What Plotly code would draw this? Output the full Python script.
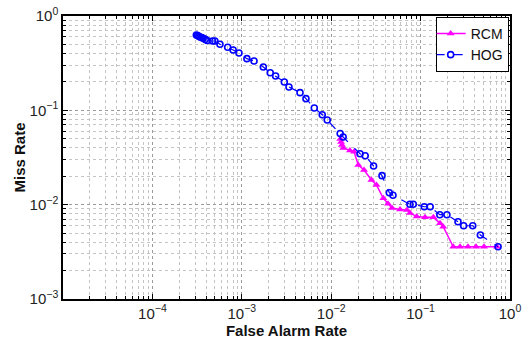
import plotly.graph_objects as go

hog_far = [3.1e-4, 3.2e-4, 3.3e-4, 3.4e-4, 3.55e-4, 3.7e-4, 3.9e-4, 4.1e-4, 4.7e-4, 5.0e-4,
           5.7e-4, 6.95e-4, 8.0e-4, 9.3e-4, 1.14e-3, 1.37e-3, 1.74e-3, 2.08e-3, 2.39e-3, 2.99e-3,
           3.37e-3, 4.48e-3, 5.22e-3, 6.47e-3, 7.94e-3, 9.03e-3, 1.26e-2, 1.36e-2, 2.1e-2, 2.4e-2,
           2.98e-2, 3.7e-2, 4.47e-2, 4.91e-2, 7.6e-2, 8.28e-2, 0.11, 0.128, 0.164, 0.197,
           0.262, 0.303, 0.383, 0.466, 0.735]
hog_miss = [0.63, 0.62, 0.61, 0.60, 0.59, 0.58, 0.565, 0.55, 0.543, 0.543,
            0.501, 0.466, 0.436, 0.405, 0.353, 0.333, 0.288, 0.25, 0.231, 0.2,
            0.177, 0.154, 0.133, 0.106, 0.0899, 0.0789, 0.0568, 0.0521, 0.0347, 0.033,
            0.0257, 0.0203, 0.0134, 0.0126, 0.0101, 0.0101, 0.0095, 0.0095, 0.00783, 0.00783,
            0.00659, 0.00598, 0.00598, 0.00477, 0.00358]

rcm_far = [0.01265, 0.01289, 0.0132, 0.01365, 0.0162, 0.0180, 0.0201, 0.0233, 0.0282, 0.0321,
           0.0383, 0.0432, 0.0479, 0.0589, 0.0705, 0.0761, 0.0904, 0.112, 0.139, 0.165,
           0.179, 0.232, 0.276, 0.339, 0.417, 0.512, 0.716]
rcm_miss = [0.0497, 0.0461, 0.0429, 0.0399, 0.0375, 0.0364, 0.0263, 0.0233, 0.0183, 0.0162,
            0.0117, 0.0102, 0.00922, 0.00889, 0.00878, 0.00816, 0.00748, 0.00734, 0.00734, 0.00634,
            0.00583, 0.00358, 0.00358, 0.00358, 0.00358, 0.00358, 0.00358]

x_tickvals = [1e-4, 1e-3, 1e-2, 1e-1, 1]
x_ticktext = ["10<sup>−4</sup>", "10<sup>−3</sup>", "10<sup>−2</sup>", "10<sup>−1</sup>", "10<sup>0</sup>"]
y_tickvals = [1e-3, 1e-2, 1e-1, 1]
y_ticktext = ["10<sup>−3</sup>", "10<sup>−2</sup>", "10<sup>−1</sup>", "10<sup>0</sup>"]

x_minor = [m * 10.0 ** k for k in range(-5, 0) for m in range(2, 10)]
y_minor = [m * 10.0 ** k for k in range(-3, 0) for m in range(2, 10)]

FONT = "Liberation Sans, Arial"

fig = go.Figure()
fig.add_trace(go.Scatter(
    x=rcm_far, y=rcm_miss, name="RCM", mode="lines+markers",
    line=dict(color="#ff00ff", width=1.5),
    marker=dict(symbol="triangle-up", size=7, color="#ff00ff"),
))
fig.add_trace(go.Scatter(
    x=hog_far, y=hog_miss, name="HOG", mode="lines+markers",
    line=dict(color="#0000ff", width=1.2, dash="dash"),
    marker=dict(symbol="circle-open", size=6, color="#0000ff", line=dict(width=1.6)),
))

def axis_common(minor_vals):
    return dict(
        type="log", showline=True, linecolor="black", linewidth=1.5, mirror="ticks",
        ticks="inside", ticklen=5, tickcolor="black", automargin=False,
        ticklabeloverflow="allow",
        showgrid=True, gridcolor="#9a9a9a", griddash="dot", gridwidth=1,
        zeroline=False,
        tickfont=dict(family=FONT, size=15, color="#222"),
        minor=dict(tickmode="array", tickvals=minor_vals, showgrid=True,
                   gridcolor="#c4c4c4", griddash="dot", gridwidth=1,
                   ticks="inside", ticklen=3, tickcolor="black"),
    )

fig.update_xaxes(range=[-5, 0], tickvals=x_tickvals, ticktext=x_ticktext,
                 title=dict(text="<b>False Alarm Rate</b>", standoff=0,
                            font=dict(family=FONT, size=15, color="#111")),
                 **axis_common(x_minor))
fig.update_yaxes(range=[-3, 0], tickvals=y_tickvals, ticktext=y_ticktext,
                 title=dict(text="<b>Miss Rate</b>", standoff=0,
                            font=dict(family=FONT, size=15, color="#111")),
                 **axis_common(y_minor))

fig.update_layout(
    width=522, height=340,
    margin=dict(l=63, r=12, t=16, b=41),
    paper_bgcolor="white", plot_bgcolor="white",
    showlegend=True,
    legend=dict(x=0.997, y=0.997, xanchor="right", yanchor="top",
                bgcolor="white", bordercolor="black", borderwidth=1,
                font=dict(family=FONT, size=14, color="#111"),
                itemwidth=30, tracegroupgap=0, indentation=-6),
)

fig.write_html("out.html", config={"displayModeBar": False},
               post_script="document.body.style.margin='0';document.body.style.overflow='hidden';")
